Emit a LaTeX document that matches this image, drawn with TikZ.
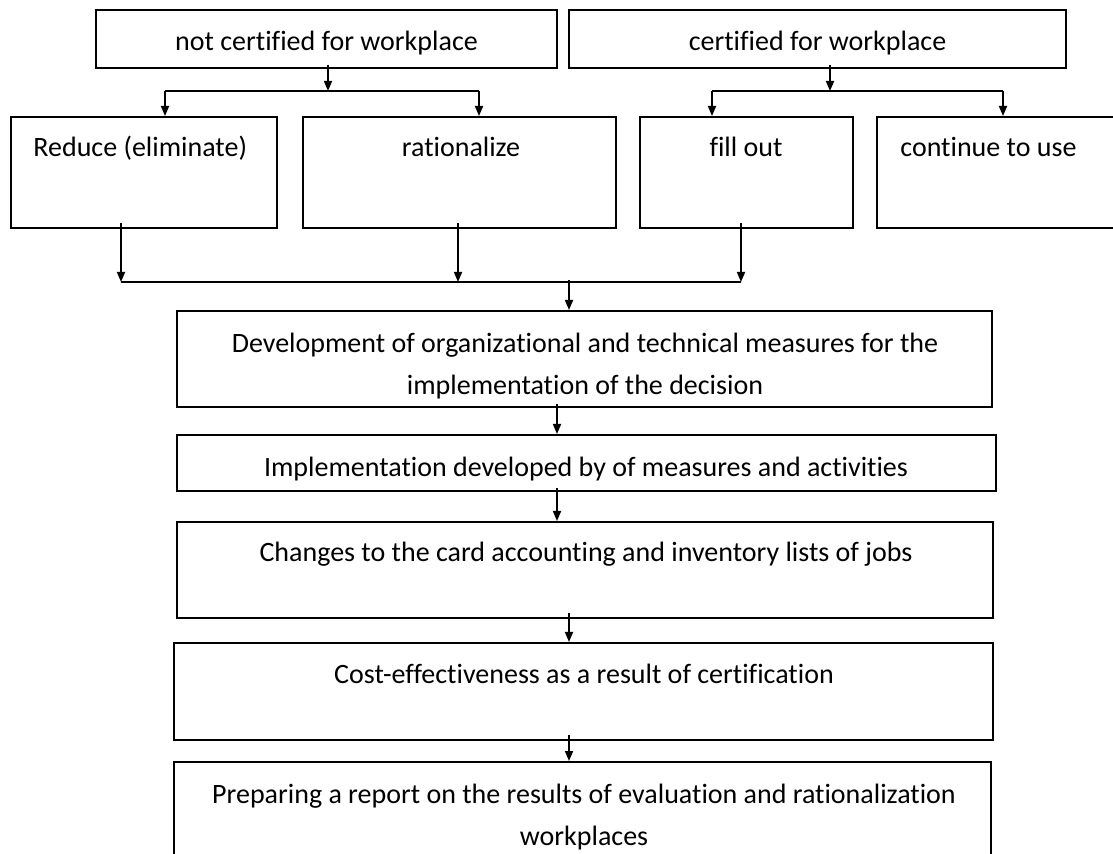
\documentclass[tikz,border=0pt]{standalone}
\usepackage{fontspec}
\setmainfont{Carlito}[Ligatures=NoCommon]
\usetikzlibrary{arrows.meta,fit}
\begin{document}
\begin{tikzpicture}[x=0.5pt,y=-0.5pt,
  box/.style={draw,line width=1pt,inner sep=0pt},
  txt/.style={inner sep=0pt,font=\fontsize{14}{21}\selectfont,align=center},
  arr/.style={line width=0.85pt,-{Triangle[length=5pt,width=4pt]}},
  ln/.style={line width=0.85pt}]
\useasboundingbox (0,0) rectangle (1113,854);
\clip (0,0) rectangle (1113,854);

% boxes
\node[box,fit={(96,10)(557,68)}] (nc) {};
\node[box,fit={(569,10)(1066,68)}] (ce) {};
\node[box,fit={(11,117)(277,228)}] (red) {};
\node[box,fit={(303,117)(616,228)}] (rat) {};
\node[box,fit={(640,117)(853,228)}] (fil) {};
\node[box,fit={(877,117)(1118,228)}] (con) {};
\node[box,fit={(177,311)(992,407)}] (dev) {};
\node[box,fit={(177,435)(996,491)}] (imp) {};
\node[box,fit={(177,522)(993,618)}] (chg) {};
\node[box,fit={(174,643)(993,740)}] (cst) {};
\node[box,fit={(174,762)(991,862)}] (rep) {};

% texts
\node[txt,anchor=base] (tnc) at (326.5,51) {not certified for workplace};
\node[txt,anchor=base] (tce) at (817.5,51) {certified for workplace};
\node[txt,anchor=base west] (tred) at (33,157) {Reduce (eliminate)};
\node[txt,anchor=base] (trat) at (461,157) {rationalize};
\node[txt,anchor=base] (tfil) at (746,157) {fill out};
\node[txt,anchor=base west] (tcon) at (900,157) {continue to use};
\node[txt,anchor=base] (tdev) at (585,395) {Development of organizational and technical measures for the\\implementation of the decision};
\node[txt,anchor=base] (timp) at (586,477) {Implementation developed by of measures and activities};
\node[txt,anchor=base] (tchg) at (586,562) {Changes to the card accounting and inventory lists of jobs};
\node[txt,anchor=base] (tcst) at (584,683) {Cost-effectiveness as a result of certification};
\node[txt,anchor=base] (trep) at (584,845) {Preparing a report on the results of evaluation and rationalization\\workplaces};

% connector points
\coordinate (j1) at (328,91);
\coordinate (b1l) at (165,91);
\coordinate (b1r) at (479,91);
\coordinate (j2) at (830,91);
\coordinate (b2l) at (712,91);
\coordinate (b2r) at (1003,91);
\coordinate (m1) at (121,282);
\coordinate (m2) at (458,282);
\coordinate (m3) at (741,282);
\coordinate (mj) at (569,282);
\coordinate (xa) at (557,0);
\coordinate (xb) at (569,0);

% top branches
\draw[arr,shorten <=-2pt] (nc.south -| j1) -- (j1);
\draw[ln] (b1l) -- (b1r);
\draw[arr] (b1l) -- (b1l |- red.north);
\draw[arr] (b1r) -- (b1r |- rat.north);
\draw[arr,shorten <=-2pt] (ce.south -| j2) -- (j2);
\draw[ln] (b2l) -- (b2r);
\draw[arr] (b2l) -- (b2l |- fil.north);
\draw[arr] (b2r) -- (b2r |- con.north);

% merge
\draw[arr,shorten <=-3pt] (red.south -| m1) -- (m1);
\draw[arr,shorten <=-3pt] (rat.south -| m2) -- (m2);
\draw[arr,shorten <=-3pt] (fil.south -| m3) -- (m3);
\draw[ln] (m1) -- (m3);
\draw[arr,shorten <=-1pt] (mj) -- (mj |- dev.north);

% vertical chain
\draw[arr,shorten <=-2pt] (dev.south -| xa) -- (imp.north -| xa);
\draw[arr,shorten <=-2pt] (imp.south -| xa) -- (chg.north -| xa);
\draw[arr,shorten <=-3pt] (chg.south -| xb) -- (cst.north -| xb);
\draw[arr,shorten <=-3pt] (cst.south -| xb) -- (rep.north -| xb);
\end{tikzpicture}
\end{document}
